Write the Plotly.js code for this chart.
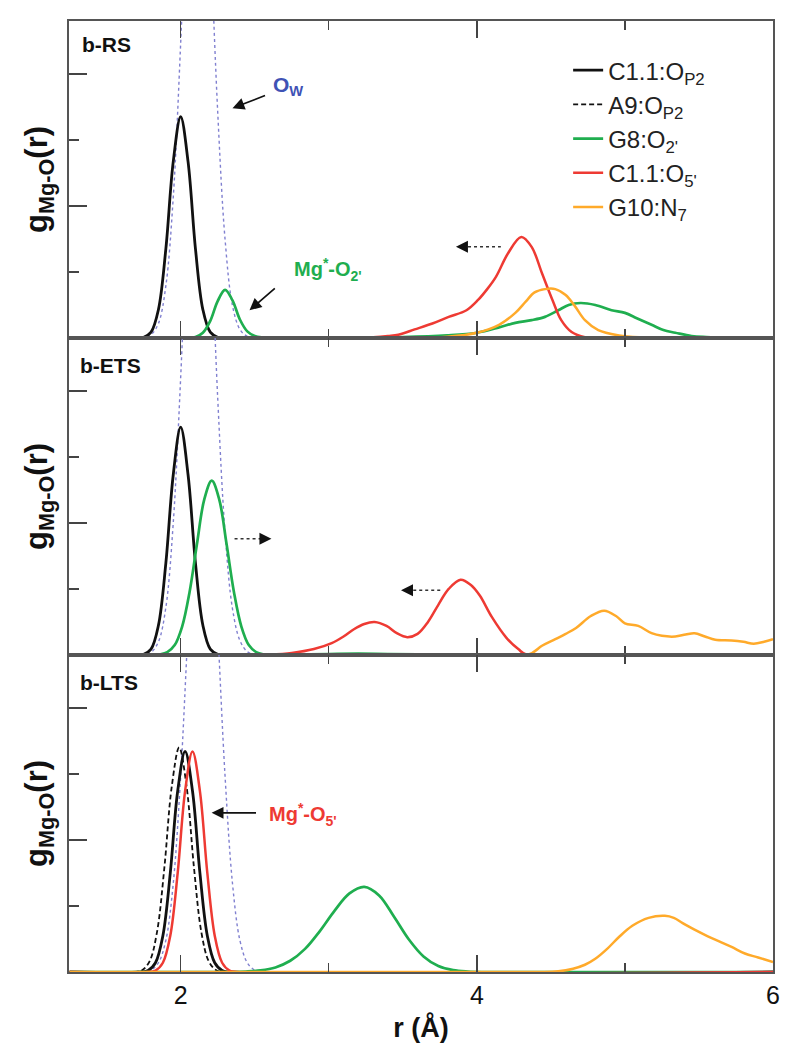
<!DOCTYPE html>
<html><head><meta charset="utf-8">
<script src="https://cdn.plot.ly/plotly-3.0.1.min.js"></script>
<style>html,body{margin:0;padding:0;background:#fff}#chart{width:800px;height:1061px}</style>
</head><body><div id="chart"></div>
<script>
// ---------- labels ----------
const panelLabels = ['b-RS', 'b-ETS', 'b-LTS'];
const seriesNames = ['C1.1:O<sub>P2</sub>', 'A9:O<sub>P2</sub>', "G8:O<sub>2'</sub>", "C1.1:O<sub>5'</sub>", 'G10:N<sub>7</sub>'];
const xTickVals = [2, 4, 6];
const xTickText = ['2', '4', '6'];

// ---------- panel 1 : b-RS ----------
const rs_ow_r = [1.25, 1.75, 1.80, 1.85, 1.90, 1.95, 2.00, 2.05, 2.10, 2.15, 2.20, 2.25, 2.30, 2.35, 2.40, 2.45, 2.50, 2.60, 6.0];
const rs_ow_g = [0, 0, 0.5, 2.2, 7.9, 21.3, 44.6, 71.4, 88, 83.5, 61, 34.3, 14.9, 4.9, 1.3, 0.25, 0.05, 0, 0];
const rs_c11op2_r = [1.25, 1.70, 1.75, 1.80, 1.85, 1.90, 1.95, 2.00, 2.05, 2.10, 2.15, 2.20, 2.25, 2.30, 6.0];
const rs_c11op2_g = [0, 0, 0.11, 0.88, 4.3, 13.5, 26.7, 33.5, 26.7, 13.5, 4.3, 0.88, 0.11, 0, 0];
const rs_a9op2_r = [1.25, 6.0];
const rs_a9op2_g = [0, 0];
const rs_g8o2_r = [1.25, 2.05, 2.10, 2.15, 2.20, 2.25, 2.30, 2.35, 2.40, 2.45, 2.50, 2.55, 2.65, 3.0, 3.5, 3.8, 4.0, 4.15, 4.26, 4.37, 4.46, 4.55, 4.62, 4.70, 4.80, 4.91, 5.0, 5.08, 5.18, 5.26, 5.34, 5.45, 5.55, 5.70, 6.0];
const rs_g8o2_g = [0, 0, 0.15, 0.8, 2.6, 5.6, 7.3, 5.7, 2.8, 1.0, 0.3, 0.08, 0, 0.05, 0.15, 0.4, 0.8, 1.6, 2.3, 2.7, 3.2, 4.2, 5.0, 5.3, 5.0, 4.2, 3.8, 3.0, 2.0, 1.2, 0.8, 0.3, 0.15, 0.05, 0];
const rs_c11o5_r = [1.25, 3.2, 3.3, 3.4, 3.47, 3.58, 3.70, 3.81, 3.93, 4.01, 4.07, 4.13, 4.21, 4.30, 4.37, 4.44, 4.51, 4.57, 4.64, 4.73, 4.80, 6.0];
const rs_c11o5_g = [0, 0, 0.1, 0.3, 0.5, 1.3, 2.2, 3.2, 4.2, 5.8, 7.4, 9.3, 12.8, 15.3, 13.8, 9.8, 5.8, 2.7, 0.9, 0.1, 0, 0];
const rs_g10n7_r = [1.25, 3.5, 3.8, 4.0, 4.15, 4.26, 4.33, 4.39, 4.46, 4.53, 4.60, 4.66, 4.73, 4.82, 4.96, 5.10, 5.30, 6.0];
const rs_g10n7_g = [0, 0, 0.2, 0.8, 2.0, 3.8, 5.5, 6.9, 7.4, 7.4, 6.5, 4.9, 2.7, 1.2, 0.4, 0.1, 0, 0];

// ---------- panel 2 : b-ETS ----------
const ets_ow_r = [1.25, 1.75, 1.80, 1.85, 1.90, 1.95, 2.00, 2.05, 2.10, 2.15, 2.20, 2.25, 2.30, 2.35, 2.40, 2.45, 2.50, 2.60, 6.0];
const ets_ow_g = [0, 0, 0.4, 2.0, 7.2, 20, 42, 68, 86, 86, 66, 39, 18.5, 7.0, 2.2, 0.5, 0.1, 0, 0];
const ets_c11op2_r = [1.25, 1.70, 1.75, 1.80, 1.85, 1.90, 1.95, 2.00, 2.05, 2.10, 2.15, 2.20, 2.25, 2.30, 6.0];
const ets_c11op2_g = [0, 0, 0.12, 0.9, 4.5, 13.9, 27.3, 34.5, 27.3, 13.9, 4.5, 0.9, 0.12, 0, 0];
const ets_a9op2_r = [1.25, 6.0];
const ets_a9op2_g = [0, 0];
const ets_g8o2_r = [1.25, 1.81, 1.86, 1.91, 1.96, 2.01, 2.06, 2.11, 2.16, 2.21, 2.26, 2.31, 2.36, 2.41, 2.46, 2.51, 2.56, 2.61, 2.7, 3.0, 3.2, 3.4, 3.7, 4.0, 4.3, 6.0];
const ets_g8o2_g = [0, 0, 0.1, 0.44, 1.5, 4.3, 9.5, 16.8, 23.6, 26.4, 23.6, 16.8, 9.5, 4.3, 1.5, 0.44, 0.1, 0, 0.05, 0.15, 0.2, 0.15, 0.1, 0.05, 0, 0];
const ets_c11o5_r = [1.25, 2.5, 2.6, 2.75, 2.9, 3.02, 3.10, 3.17, 3.24, 3.31, 3.39, 3.46, 3.53, 3.60, 3.67, 3.74, 3.81, 3.89, 3.96, 4.02, 4.10, 4.20, 4.28, 4.34, 6.0];
const ets_c11o5_g = [0, 0, 0.05, 0.3, 0.9, 1.8, 2.8, 3.9, 4.7, 5.0, 4.4, 3.3, 2.7, 3.2, 5.0, 7.6, 10.0, 11.4, 10.6, 9.0, 5.8, 2.6, 0.9, 0, 0];
const ets_g10n7_r = [1.25, 4.34, 4.44, 4.53, 4.60, 4.67, 4.77, 4.86, 4.94, 5.0, 5.09, 5.18, 5.25, 5.34, 5.41, 5.47, 5.54, 5.61, 5.72, 5.80, 5.87, 5.94, 6.0];
const ets_g10n7_g = [0, 0, 1.4, 2.4, 3.2, 4.1, 5.9, 6.7, 5.9, 4.8, 4.4, 3.3, 2.9, 2.8, 3.1, 3.3, 2.8, 2.3, 2.2, 2.0, 1.7, 2.0, 2.4];

// ---------- panel 3 : b-LTS ----------
const lts_ow_r = [1.25, 1.75, 1.80, 1.85, 1.90, 1.95, 2.00, 2.05, 2.10, 2.15, 2.20, 2.25, 2.30, 2.35, 2.40, 2.45, 2.50, 2.55, 2.65, 6.0];
const lts_ow_g = [0, 0, 0.3, 1.4, 4.8, 13.4, 29.6, 52, 73, 82, 73, 52, 29.6, 13.4, 4.8, 1.4, 0.3, 0.05, 0, 0];
const lts_c11op2_r = [1.25, 1.73, 1.78, 1.83, 1.88, 1.93, 1.98, 2.03, 2.08, 2.13, 2.18, 2.23, 2.28, 2.33, 6.0];
const lts_c11op2_g = [0, 0, 0.22, 1.4, 5.5, 15.0, 27.4, 33.4, 27.4, 15.0, 5.5, 1.4, 0.22, 0, 0];
const lts_a9op2_r = [1.25, 1.69, 1.74, 1.79, 1.84, 1.89, 1.94, 1.99, 2.04, 2.09, 2.14, 2.19, 2.24, 2.29, 6.0];
const lts_a9op2_g = [0, 0, 0.28, 1.6, 6.0, 15.8, 28.1, 34.0, 28.1, 15.8, 6.0, 1.6, 0.28, 0, 0];
const lts_g8o2_r = [1.25, 2.34, 2.44, 2.54, 2.64, 2.74, 2.84, 2.94, 3.04, 3.14, 3.24, 3.34, 3.44, 3.54, 3.64, 3.74, 3.84, 3.94, 4.04, 6.0];
const lts_g8o2_g = [0, 0, 0.07, 0.24, 0.69, 1.7, 3.5, 6.2, 9.3, 11.9, 12.9, 11.6, 8.4, 4.95, 2.35, 0.9, 0.28, 0.07, 0, 0];
const lts_c11o5_r = [1.25, 1.78, 1.83, 1.88, 1.93, 1.98, 2.03, 2.08, 2.13, 2.18, 2.23, 2.28, 2.33, 2.38, 6.0];
const lts_c11o5_g = [0, 0, 0.22, 1.4, 5.5, 15.0, 27.4, 33.4, 27.4, 15.0, 5.5, 1.4, 0.22, 0, 0];
const lts_g10n7_r = [1.25, 4.40, 4.55, 4.65, 4.73, 4.80, 4.88, 4.96, 5.05, 5.16, 5.27, 5.33, 5.39, 5.47, 5.56, 5.64, 5.72, 5.81, 5.90, 6.0];
const lts_g10n7_g = [0, 0, 0.1, 0.5, 1.1, 2.0, 3.5, 5.3, 7.0, 8.2, 8.5, 8.2, 7.4, 6.4, 5.4, 4.6, 3.8, 2.8, 2.2, 1.5];

// ---------- styles ----------
const FONT = 'Liberation Sans, Arial, Helvetica, sans-serif';
const colBlack = '#111111', colGreen = '#1fae4f', colRed = '#ee3a33', colOrange = '#ffaa2a', colOw = '#8080d0';
const AX = '#555555';

const panels = [
  {xa: 'x', ya: 'y', ow: [rs_ow_r, rs_ow_g], s: [[rs_c11op2_r, rs_c11op2_g], [rs_a9op2_r, rs_a9op2_g], [rs_g8o2_r, rs_g8o2_g], [rs_c11o5_r, rs_c11o5_g], [rs_g10n7_r, rs_g10n7_g]]},
  {xa: 'x2', ya: 'y2', ow: [ets_ow_r, ets_ow_g], s: [[ets_c11op2_r, ets_c11op2_g], [ets_a9op2_r, ets_a9op2_g], [ets_g8o2_r, ets_g8o2_g], [ets_c11o5_r, ets_c11o5_g], [ets_g10n7_r, ets_g10n7_g]]},
  {xa: 'x3', ya: 'y3', ow: [lts_ow_r, lts_ow_g], s: [[lts_c11op2_r, lts_c11op2_g], [lts_a9op2_r, lts_a9op2_g], [lts_g8o2_r, lts_g8o2_g], [lts_c11o5_r, lts_c11o5_g], [lts_g10n7_r, lts_g10n7_g]]}
];
const lineStyles = [
  {color: colBlack, width: 2.8},
  {color: colBlack, width: 1.8, dash: '5px,3px'},
  {color: colGreen, width: 2.7},
  {color: colRed, width: 2.5},
  {color: colOrange, width: 2.5}
];

const traces = [];
panels.forEach((p) => {
  traces.push({x: p.ow[0], y: p.ow[1], xaxis: p.xa, yaxis: p.ya, mode: 'lines', showlegend: false,
    line: {color: colOw, width: 1.4, dash: 'dot', shape: 'spline', smoothing: 1}, hoverinfo: 'skip'});
});
panels.forEach((p, pi) => {
  p.s.forEach((d, si) => {
    traces.push({x: d[0], y: d[1], xaxis: p.xa, yaxis: p.ya, mode: 'lines', name: seriesNames[si],
      legendgroup: 'g' + si, showlegend: pi === 0, legendrank: si,
      line: Object.assign({shape: 'spline', smoothing: 1}, lineStyles[si])});
  });
});

function xAxis(anchor, labels) {
  return {anchor: anchor, domain: [0, 1], range: [1.246, 6.0], tickmode: 'array', tickvals: xTickVals, ticktext: xTickText,
    showticklabels: labels, ticks: 'inside', ticklen: 17, tickwidth: 1.6, tickcolor: '#444',
    minor: {tickvals: [3, 5], ticks: 'inside', ticklen: 9, tickwidth: 1.4, tickcolor: '#444'},
    showline: true, linecolor: AX, linewidth: 1.6, mirror: 'ticks', showgrid: false, zeroline: false,
    tickfont: {family: FONT, size: 25, color: '#111'}};
}
function yAxis(anchor, domain) {
  return {anchor: anchor, domain: domain, range: [0, 48], tick0: 0, dtick: 20, ticks: 'inside', ticklen: 18, tickwidth: 1.6,
    tickcolor: '#444', showticklabels: false,
    minor: {dtick: 10, tick0: 0, ticks: 'inside', ticklen: 10, tickwidth: 1.4, tickcolor: '#444'},
    showline: true, linecolor: AX, linewidth: 1.6, mirror: true, showgrid: false, zeroline: false,
    title: {text: '<b>g<sub>Mg-O</sub>(r)</b>', font: {family: FONT, size: 31, color: '#111'}, standoff: 10}};
}

const x3 = xAxis('y3', true);
x3.title = {text: '<b>r (Å)</b>', font: {family: FONT, size: 27, color: '#111'}, standoff: 10};

function arrow(xref, yref, hx, hy, tx, ty) {
  return {xref: xref, yref: yref, axref: xref, ayref: yref, x: hx, y: hy, ax: tx, ay: ty, text: '', showarrow: true,
    arrowhead: 2, arrowsize: 1.4, arrowwidth: 1.7, arrowcolor: '#111'};
}
function head(xref, yref, hx, hy, dxpx) {
  return {xref: xref, yref: yref, x: hx, y: hy, ax: dxpx, ay: 0, text: '', showarrow: true,
    arrowhead: 2, arrowsize: 1.5, arrowwidth: 1.6, arrowcolor: '#111'};
}
function label(xref, yref, x, y, txt, color, size) {
  return {xref: xref, yref: yref, x: x, y: y, text: txt, showarrow: false, xanchor: 'left', yanchor: 'middle',
    font: {family: FONT, size: size, color: color}};
}

const annotations = [
  label('x', 'y', 1.32, 44.5, '<b>' + panelLabels[0] + '</b>', '#111', 21),
  label('x2', 'y2', 1.31, 43.9, '<b>' + panelLabels[1] + '</b>', '#111', 21),
  label('x3', 'y3', 1.31, 43.8, '<b>' + panelLabels[2] + '</b>', '#111', 21),
  label('x', 'y', 2.61, 38.2, '<b>O<sub>W</sub></b>', '#3f52b5', 21),
  arrow('x', 'y', 2.35, 34.8, 2.58, 36.8),
  label('x', 'y', 2.75, 10.3, "<b>Mg<sup>*</sup>-O<sub>2'</sub></b>", colGreen, 20),
  arrow('x', 'y', 2.465, 4.2, 2.646, 7.7),
  label('x3', 'y3', 2.586, 23.9, "<b>Mg<sup>*</sup>-O<sub>5'</sub></b>", colRed, 20),
  arrow('x3', 'y3', 2.209, 24.1, 2.519, 24.1),
  head('x', 'y', 3.859, 13.8, 6),
  head('x2', 'y2', 2.613, 17.6, -6),
  head('x2', 'y2', 3.488, 9.8, 6)
];
const shapes = [
  {type: 'line', xref: 'x', yref: 'y', x0: 3.90, y0: 13.8, x1: 4.162, y1: 13.8, line: {color: '#333', width: 1.5, dash: 'dot'}},
  {type: 'line', xref: 'x2', yref: 'y2', x0: 2.364, y0: 17.6, x1: 2.57, y1: 17.6, line: {color: '#333', width: 1.5, dash: 'dot'}},
  {type: 'line', xref: 'x2', yref: 'y2', x0: 3.53, y0: 9.8, x1: 3.764, y1: 9.8, line: {color: '#333', width: 1.5, dash: 'dot'}}
];

const layout = {
  width: 800, height: 1061,
  margin: {l: 69, r: 27, t: 21, b: 89},
  paper_bgcolor: '#fff', plot_bgcolor: '#fff',
  font: {family: FONT, color: '#111'},
  showlegend: true,
  legend: {x: 0.709, y: 0.9715, xanchor: 'left', yanchor: 'top', bgcolor: 'rgba(0,0,0,0)', borderwidth: 0,
    traceorder: 'grouped', tracegroupgap: 0, font: {family: FONT, size: 24, color: '#222'}},
  xaxis: xAxis('y', false),
  xaxis2: xAxis('y2', false),
  xaxis3: x3,
  yaxis: yAxis('x', [2 / 3, 1]),
  yaxis2: yAxis('x2', [1 / 3, 2 / 3]),
  yaxis3: yAxis('x3', [0, 1 / 3]),
  annotations: annotations,
  shapes: shapes
};

Plotly.newPlot('chart', traces, layout, {staticPlot: true, displayModeBar: false});
</script>
</body></html>
